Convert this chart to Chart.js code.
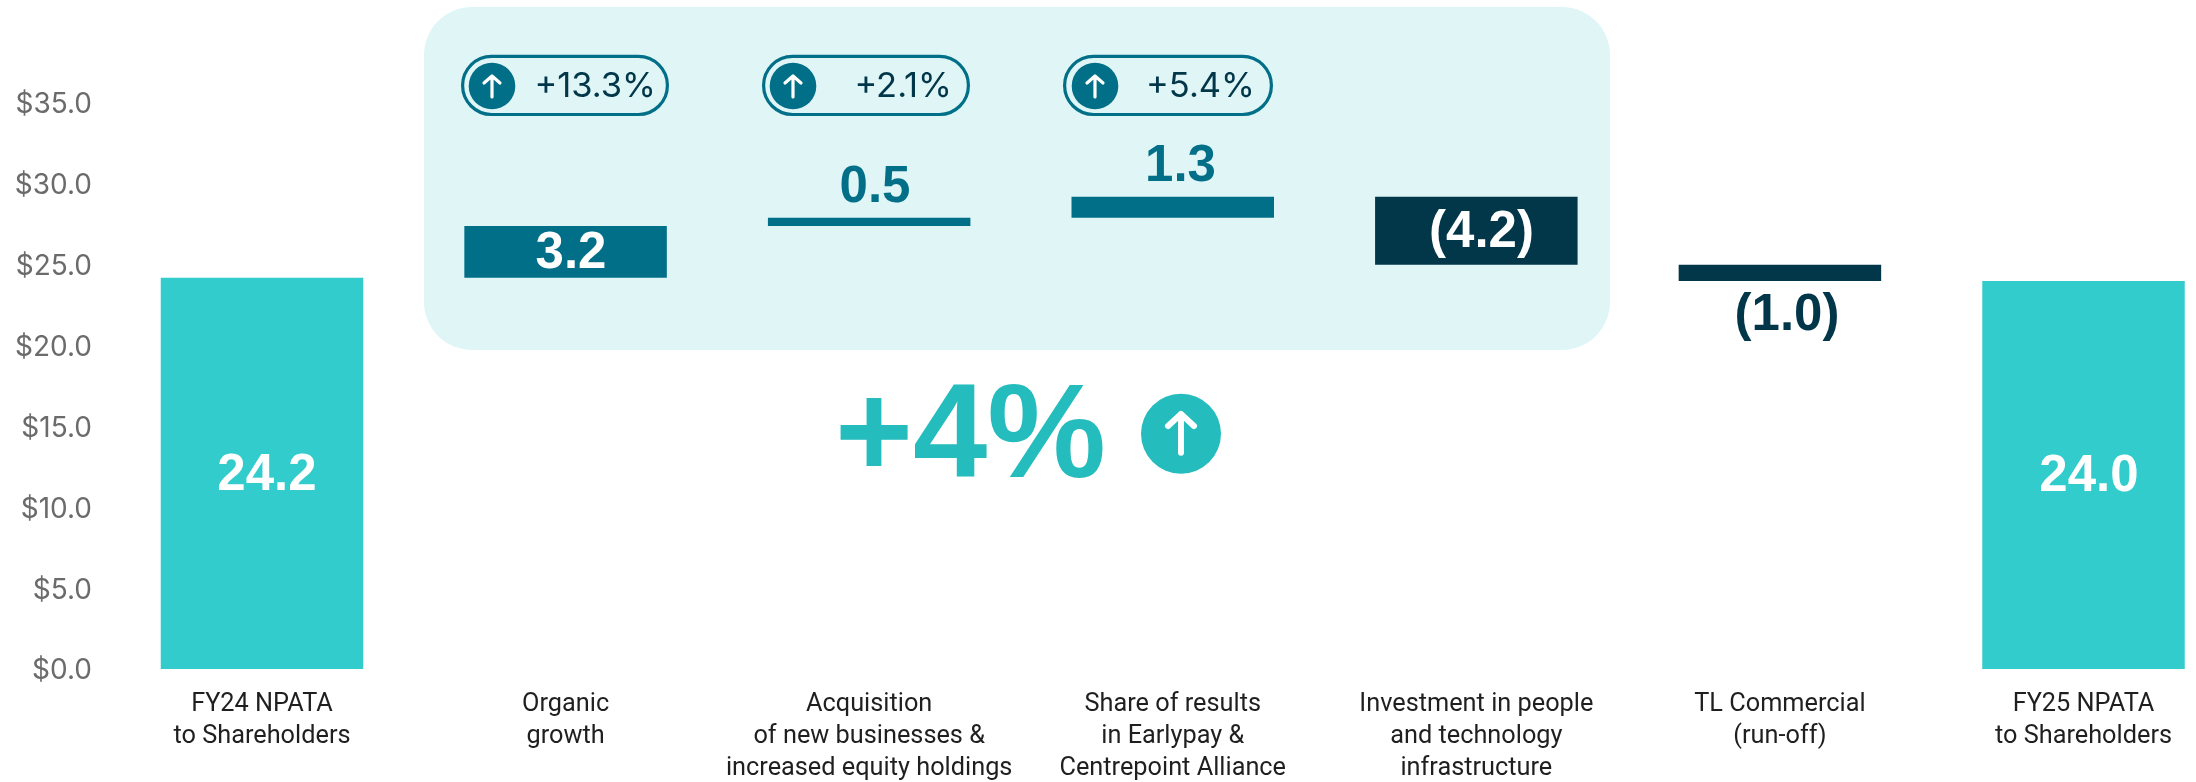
<!DOCTYPE html>
<html>
<head>
<meta charset="utf-8">
<style>html,body{margin:0;padding:0;background:#fff;overflow:hidden}#wrap{position:relative;width:2196px;height:782px}</style>
<script src="https://cdn.jsdelivr.net/npm/chart.js@4"></script>
</head>
<body>
<div id="wrap"><canvas id="c" width="2196" height="782"></canvas></div>
<script>
const categories = [
  ["FY24 NPATA","to Shareholders"],
  ["Organic","growth"],
  ["Acquisition","of new businesses &","increased equity holdings"],
  ["Share of results","in Earlypay &","Centrepoint Alliance"],
  ["Investment in people","and technology","infrastructure"],
  ["TL Commercial","(run-off)"],
  ["FY25 NPATA","to Shareholders"]
];
const barStart = [0, 24.2, 27.4, 27.9, 29.2, 25.0, 0];
const barEnd   = [24.2, 27.4, 27.9, 29.2, 25.0, 24.0, 24.0];
const barLabels = ["24.2","3.2","0.5","1.3","(4.2)","(1.0)","24.0"];
const pillLabels = ["+13.3%","+2.1%","+5.4%"];
const headline = "+4%";
const yTicks = [0,5,10,15,20,25,30,35];

const TEAL="#33cccd", MID="#006f87", DARK="#023649", PANEL="#dff5f6", BIG="#24bcbd";
const barColors=[TEAL,MID,MID,MID,DARK,DARK,TEAL];
const labelColors=["#fff","#fff",MID,MID,"#fff",DARK,"#fff"];
const labelPos=[[267,475],[571,253],[875,187],[1180.5,166],[1481.5,232],[1787,315],[2089,476]];
const pills=[[461,669,656,492],[762,970,952,793],[1063,1273,1255,1095]];

function arrow(ctx,x,top,bot,hw,lw){
  ctx.save();ctx.strokeStyle="#fff";ctx.lineWidth=lw;ctx.lineCap="round";ctx.lineJoin="round";
  ctx.beginPath();ctx.moveTo(x,bot);ctx.lineTo(x,top+1);
  ctx.moveTo(x-hw,top+hw);ctx.lineTo(x,top+1);ctx.lineTo(x+hw,top+hw);ctx.stroke();ctx.restore();
}
const decor={id:"decor",
  beforeDatasetsDraw(chart){
    const ctx=chart.ctx;ctx.save();
    ctx.fillStyle=PANEL;ctx.beginPath();ctx.roundRect(424,7,1186,343,48);ctx.fill();
    pills.forEach((p,i)=>{
      ctx.strokeStyle=MID;ctx.lineWidth=3.2;ctx.beginPath();
      ctx.roundRect(p[0]+1.6,56.3,p[1]-p[0]-3.2,58.2,29);ctx.stroke();
      ctx.fillStyle=MID;ctx.beginPath();ctx.arc(p[3],86,23.3,0,Math.PI*2);ctx.fill();
      arrow(ctx,p[3],75,97,8,3.2);
      ctx.fillStyle=DARK;ctx.font='34.5px Inter';ctx.textAlign="right";ctx.textBaseline="middle";
      ctx.fillText(pillLabels[i],p[2],87);
    });
    ctx.fillStyle=BIG;ctx.font='bold 133.5px "Liberation Sans"';ctx.textAlign="left";ctx.textBaseline="alphabetic";
    ctx.fillText(headline,835,477);
    ctx.beginPath();ctx.arc(1181,433.7,40,0,Math.PI*2);ctx.fill();
    arrow(ctx,1181,413,452.7,13,6);
    ctx.restore();
  },
  afterDatasetsDraw(chart){
    const ctx=chart.ctx;ctx.save();
    ctx.font='bold 51px "Liberation Sans"';ctx.textAlign="center";ctx.textBaseline="middle";
    barLabels.forEach((t,i)=>{ctx.fillStyle=labelColors[i];ctx.fillText(t,labelPos[i][0],labelPos[i][1]+1);});
    ctx.restore();
  }
};

new Chart(document.getElementById("c"),{
  type:"bar",
  data:{labels:categories,datasets:[{
    data:barStart.map((s,i)=>[s,barEnd[i]]),
    backgroundColor:barColors,borderWidth:0,borderSkipped:false,clip:false,
    barPercentage:1,categoryPercentage:0.667
  }]},
  options:{
    responsive:false,animation:false,
    layout:{padding:{top:103,right:112.5,left:0,bottom:0}},
    plugins:{legend:{display:false},tooltip:{enabled:false},title:{display:false}},
    scales:{
      x:{offset:false,grid:{display:false,drawTicks:false},border:{display:false},
        afterFit(s){s.height=113;},
        ticks:{autoSkip:false,maxRotation:0,minRotation:0,padding:19,color:"#1f1f1f",
          font:{family:"Roboto",size:25.3,lineHeight:1.28}}},
      y:{min:0,max:35,grid:{display:false,drawTicks:false},border:{display:false},
        afterBuildTicks(s){s.ticks=yTicks.map(v=>({value:v}));},
        afterFit(s){s.width=262;s.paddingTop=0;s.paddingBottom=0;},
        ticks:{padding:170,labelOffset:2,color:"#6b6b6b",font:{family:"Inter",size:28},
          callback:v=>"$"+Number(v).toFixed(1)}}
    }
  },
  plugins:[decor]
});
</script>
</body>
</html>
